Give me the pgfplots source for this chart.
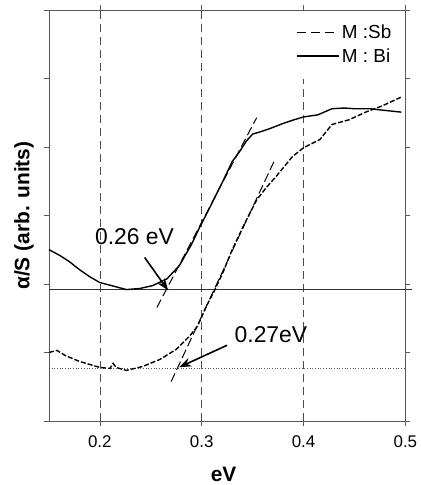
\documentclass[border=0pt]{standalone}
\usepackage{pgfplots}
\pgfplotsset{compat=1.18}
\usepackage{fontspec}
\setmainfont{Liberation Sans}
\usetikzlibrary{arrows.meta}
\begin{document}
\begin{tikzpicture}
\begin{axis}[
  scale only axis, width=357bp, height=412bp,
  xmin=0.15, xmax=0.5, ymin=0, ymax=6,
  xtick={0.2,0.3,0.4,0.5},
  ytick={0,1,2,3,4,5,6},
  yticklabel style={opacity=0},
  tick align=outside, major tick length=5bp,
  tick style={gray!70!black, line width=0.6bp},
  axis line style={gray!70!black, line width=0.8bp},
  xticklabel style={font=\fontsize{17}{20}\selectfont, yshift=-6bp},
  /pgf/number format/assume math mode=true,
  xlabel={\textbf{eV}},
  ylabel={\textbf{α/S (arb. units)}},
  xlabel style={font=\fontsize{21}{24}\selectfont, at={(axis description cs:0.49,-0.129)}, anchor=center},
  ylabel style={font=\fontsize{21}{24}\selectfont, at={(axis description cs:-0.07,0.5)}, anchor=center},
  clip=false,
  legend cell align=left,
  legend image code/.code={\draw[#1] (0cm,0cm) -- (1.48cm,0cm);},
  legend style={draw=none, fill=none, font=\fontsize{19}{22}\selectfont,
    nodes={font=\fontsize{19}{22}\selectfont}, row sep=5bp,
    at={(axis description cs:0.975,0.975)}, anchor=north east},
]
\addplot[gray!60!black, line width=0.6bp, dash pattern=on 8bp off 5bp, forget plot] coordinates {(0.2,0) (0.2,6)};
\addplot[gray!60!black, line width=0.6bp, dash pattern=on 8bp off 5bp, forget plot] coordinates {(0.3,0) (0.3,6)};
\addplot[gray!60!black, line width=0.6bp, dash pattern=on 8bp off 5bp, forget plot] coordinates {(0.4,0) (0.4,5.0)};
\addplot[black!80, line width=0.7bp, forget plot] coordinates {(0.15,1.922) (0.507,1.922)};
\addplot[gray!70!black, line width=0.7bp, dotted, forget plot] coordinates {(0.15,0.772) (0.5,0.772)};
\addlegendimage{black, line width=1bp, dash pattern=on 9bp off 5bp}
\addlegendentry{M :Sb}
\addplot[black, line width=1.4bp] coordinates {
(0.150,2.505) (0.161,2.417) (0.170,2.33) (0.180,2.213) (0.190,2.11) (0.200,2.024) (0.215,1.966) (0.226,1.922)
(0.239,1.937) (0.252,1.98) (0.266,2.08) (0.278,2.27) (0.290,2.58) (0.298,2.83)
(0.306,3.06) (0.315,3.33) (0.323,3.57) (0.330,3.79) (0.337,3.93) (0.344,4.09)
(0.350,4.19) (0.357,4.22) (0.367,4.27) (0.379,4.34) (0.391,4.40) (0.400,4.44)
(0.414,4.47) (0.428,4.56) (0.440,4.57) (0.450,4.56) (0.465,4.56) (0.477,4.54) (0.496,4.51)};
\addlegendentry{M : Bi}
\addplot[black, line width=1.4bp, dash pattern=on 5bp off 2bp, forget plot] coordinates {
(0.150,1.005) (0.158,1.034) (0.166,0.96) (0.180,0.874) (0.200,0.786) (0.210,0.772)
(0.213,0.845) (0.216,0.786) (0.226,0.743) (0.242,0.80) (0.259,0.903) (0.275,1.05)
(0.288,1.24) (0.295,1.37) (0.298,1.456) (0.305,1.69) (0.313,1.92) (0.322,2.21)
(0.330,2.505) (0.342,2.88) (0.354,3.23) (0.364,3.42) (0.373,3.57) (0.389,3.86)
(0.400,3.99) (0.416,4.11) (0.428,4.33) (0.445,4.40) (0.461,4.51) (0.477,4.60) (0.496,4.73)};
\addplot[black, line width=1bp, dash pattern=on 9bp off 4bp, forget plot] coordinates {(0.256,1.66) (0.354,4.43)};
\addplot[black, line width=1bp, dash pattern=on 9bp off 4bp, forget plot] coordinates {(0.270,0.58) (0.371,3.79)};
\addplot[black, line width=1.6bp, forget plot, arrows={-Stealth[length=12bp,width=9bp]}] coordinates {(0.244,2.39) (0.267,1.91)};
\addplot[black, line width=1.6bp, forget plot, arrows={-Stealth[length=12bp,width=9bp]}] coordinates {(0.325,1.11) (0.278,0.79)};
\node[font=\fontsize{23}{26}\selectfont, inner sep=0pt] at (axis cs:0.234,2.69) {0.26 eV};
\node[font=\fontsize{23}{26}\selectfont, inner sep=0pt] at (axis cs:0.368,1.27) {0.27eV};
\end{axis}
\path[draw=none] (-49bp,-63bp) rectangle (372bp,422bp);
\end{tikzpicture}
\end{document}
